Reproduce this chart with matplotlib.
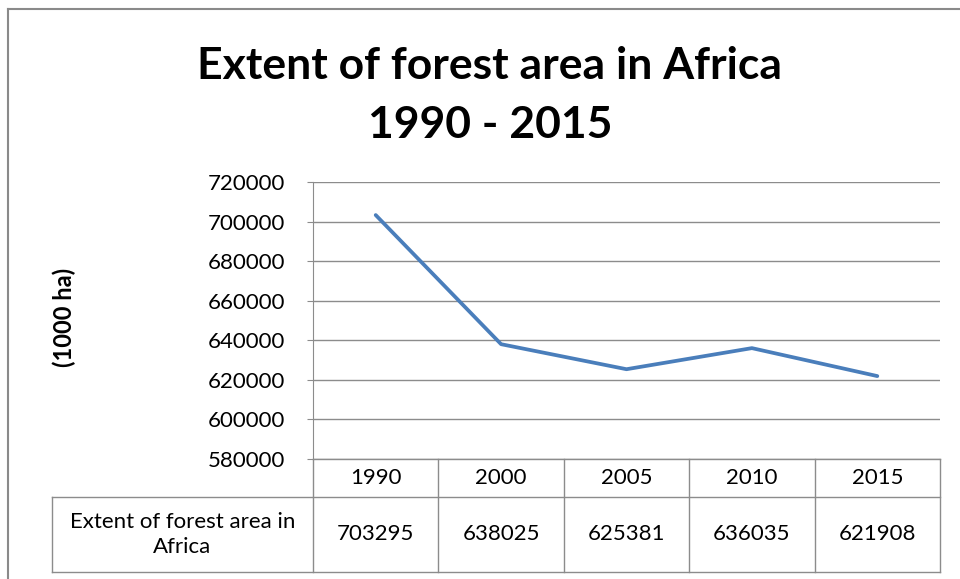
import matplotlib
matplotlib.use("Agg")
import matplotlib.pyplot as plt
import matplotlib.transforms as mtransforms
from matplotlib.lines import Line2D

# ──────────────────────────────────────────────────────────────────────
#  Data
# ──────────────────────────────────────────────────────────────────────
years = ["1990", "2000", "2005", "2010", "2015"]
forest_area = [703295, 638025, 625381, 636035, 621908]
series_name = "Extent of forest area in\nAfrica"
y_ticks = list(range(580000, 720001, 20000))

W, H = 960, 579
plt.rcParams["font.family"] = ["Lato", "DejaVu Sans"]

fig = plt.figure(figsize=(W / 100, H / 100), dpi=100)

GRID = "#8c8c8c"
LINE = "#4a7ebb"

# plot area in pixels (top-left origin)
PX0, PY0, PX1, PY1 = 313, 182, 940, 459
ax = fig.add_axes([PX0 / W, 1 - PY1 / H, (PX1 - PX0) / W, (PY1 - PY0) / H])

x = list(range(len(years)))
ax.plot(x, forest_area, color=LINE, lw=2.7, solid_capstyle="round")
ax.set_xlim(-0.5, len(years) - 0.5)
ax.set_ylim(y_ticks[0], y_ticks[-1])
ax.set_yticks(y_ticks)
ax.set_yticklabels([str(t) for t in y_ticks], fontsize=16)
ax.set_xticks([])
ax.yaxis.grid(True, color=GRID, lw=1)
ax.tick_params(axis="y", length=4, color=GRID, pad=16)
for side in ("top", "right", "bottom"):
    ax.spines[side].set_visible(False)
ax.spines["left"].set_color(GRID)

ax.set_ylabel("(1000 ha)", fontsize=17, fontweight="bold")
ax.yaxis.set_label_coords((76 - PX0) / (PX1 - PX0), 0.51)

# ──────────────────────────────────────────────────────────────────────
#  Data table below the plot (x in data units, y in axes units)
# ──────────────────────────────────────────────────────────────────────
ph = PY1 - PY0
row_top = 0.0
row_mid = -(497 - PY1) / ph
row_bot = -(572 - PY1) / ph
label_left = -0.5 - (PX0 - 52) / (PX1 - PX0) * len(years)

trans = mtransforms.blended_transform_factory(ax.transData, ax.transAxes)
kw = dict(color=GRID, lw=1, transform=trans, clip_on=False)

# horizontal rules
ax.add_line(Line2D([-0.5, len(years) - 0.5], [row_top] * 2, **kw))
ax.add_line(Line2D([label_left, len(years) - 0.5], [row_mid] * 2, **kw))
ax.add_line(Line2D([label_left, len(years) - 0.5], [row_bot] * 2, **kw))
# vertical rules
ax.add_line(Line2D([label_left] * 2, [row_mid, row_bot], **kw))
for i in range(len(years) + 1):
    ax.add_line(Line2D([i - 0.5] * 2, [row_top, row_bot], **kw))

for i, (yr, v) in enumerate(zip(years, forest_area)):
    ax.text(i, (row_top + row_mid) / 2, yr, transform=trans,
            ha="center", va="center", fontsize=16)
    ax.text(i, (row_mid + row_bot) / 2, str(v), transform=trans,
            ha="center", va="center", fontsize=16)
ax.text((label_left - 0.5) / 2, (row_mid + row_bot) / 2, series_name,
        transform=trans, ha="center", va="center", fontsize=16,
        linespacing=1.3)

# ──────────────────────────────────────────────────────────────────────
#  Title and chart frame
# ──────────────────────────────────────────────────────────────────────
fig.text(490 / W, 1 - 66 / H, "Extent of forest area in Africa",
         ha="center", va="center", fontsize=32, fontweight="bold")
fig.text(490 / W, 1 - 125 / H, "1990 - 2015",
         ha="center", va="center", fontsize=32, fontweight="bold")

fig.add_artist(Line2D([8 / W, 1], [1 - 9 / H] * 2, color="#8a8a8a", lw=1.5))
fig.add_artist(Line2D([8 / W] * 2, [0, 1 - 9 / H], color="#8a8a8a", lw=1.5))

fig.savefig("out.png", dpi=100)
